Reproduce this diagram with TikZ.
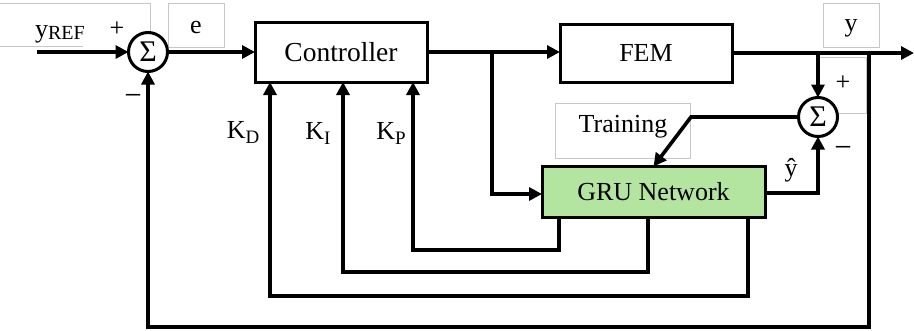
\documentclass[tikz,border=0pt]{standalone}
\usepackage{fontspec}
\setmainfont{Liberation Serif}
\usetikzlibrary{arrows.meta}
\definecolor{grufill}{HTML}{B3E5A0}
\begin{document}
\begin{tikzpicture}[x=1pt,y=-1pt,
  every node/.style={inner sep=0pt, outer sep=0pt},
  blockbox/.style={draw, line width=3pt, font=\fontsize{26}{30}\selectfont},
  sumnode/.style={circle, draw, line width=3pt, fill=white, minimum size=39pt, font=\fontsize{30}{30}\selectfont},
  arr/.style={line width=3.6pt, -{Triangle[length=13pt,width=13pt]}},
  faint/.style={draw=black!22, line width=0.8pt},
  lbl/.style={font=\fontsize{26}{30}\selectfont},
  signlbl/.style={font=\fontsize{31}{30}\selectfont}]
\useasboundingbox (0,0) rectangle (914,330);
% faint text frames
\draw[faint] (0,3) -- (150,3) -- (150,46);
\draw[faint] (0,46) -- (83,46);
\draw[faint] (168,3) rectangle (224,47);
\draw[faint] (823,3) rectangle (879,47);
\draw[faint] (816,57) rectangle (866,113);
\draw[faint] (555,103) rectangle (690,158);
% blocks
\node[blockbox, minimum width=172pt, minimum height=60pt, font=\fontsize{27.5}{30}\selectfont] (ctrl) at (341,52) {Controller};
\node[blockbox, minimum width=172pt, minimum height=58pt] (fem) at (646,53) {FEM};
\node[blockbox, fill=grufill, minimum width=223pt, minimum height=51pt] (gru) at (653.5,192) {GRU Network};
\node[sumnode] (s1) at (148,52) {Σ};
\node[sumnode] (s2) at (818,117) {Σ};
% labels
\node[lbl] (lyref) at (60,34) {y\raisebox{-2pt}{\fontsize{20}{20}\selectfont REF}};
\node[lbl] (lplus1) at (117,29) {+};
\node[signlbl] (lminus1) at (133,100) {−};
\node[lbl] (le) at (196,27) {e};
\node[lbl] (ly) at (851,28) {y};
\node[lbl] (lplus2) at (843,83) {+};
\node[signlbl] (lminus2) at (843,152) {−};
\node[lbl] (lyhat) at (791,170) {ŷ};
\node[lbl] (ltrain) at (623,127) {Training};
\node[lbl] (lkd) at (243,133) {K\raisebox{-5pt}{\fontsize{19}{20}\selectfont D}};
\node[lbl] (lki) at (318,133) {K\raisebox{-5pt}{\fontsize{19}{20}\selectfont I}};
\node[lbl] (lkp) at (391,133) {K\raisebox{-5pt}{\fontsize{19}{20}\selectfont P}};
% coordinates
\coordinate (in) at (37,52);
\coordinate (b1) at (492,52);
\coordinate (yend) at (914,53);
\coordinate (b3) at (869,53);
\coordinate (fbc) at (869,327);
\coordinate (tk) at (691,117);
\coordinate (kp) at (559,250);
\coordinate (ki) at (648,272);
\coordinate (kd) at (748,296);
% connectors
\draw[arr] (in) -- (s1.west);
\draw[arr] (s1.east) -- (ctrl.west);
\draw[arr] (ctrl.east) -- (fem.west |- ctrl.east);
\draw[arr] (b1) |- ([yshift=-2pt]gru.west);
\draw[arr] (fem.east) -- (yend);
\draw[arr] (s2.north |- fem.east) -- (s2.north);
\draw[arr] (b3) -- (fbc) -| (s1.south);
\draw[arr] ([yshift=-1pt]gru.east) -| (s2.south);
\draw[arr] (s2.west) -- (tk) -- (gru.north);
\draw[arr] (gru.south -| kp) -- (kp) -| ([xshift=72pt]ctrl.south);
\draw[arr] (gru.south -| ki) -- (ki) -| ([xshift=2pt]ctrl.south);
\draw[arr] (gru.south -| kd) -- (kd) -| ([xshift=-71pt]ctrl.south);
\end{tikzpicture}
\end{document}
